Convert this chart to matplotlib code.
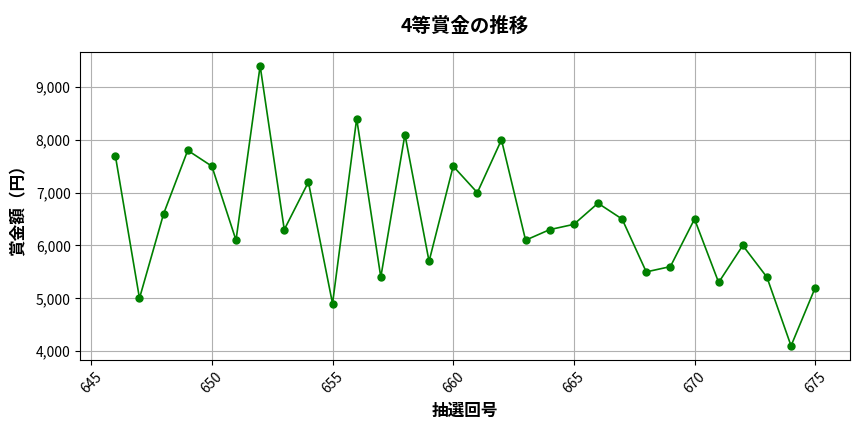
import matplotlib
matplotlib.use("Agg")
import matplotlib.pyplot as plt
from matplotlib.ticker import FuncFormatter

plt.rcParams['font.family'] = ['Noto Sans CJK JP', 'DejaVu Sans']

draws = list(range(646, 676))
prizes = [7700, 5000, 6600, 7800, 7500, 6100, 9400, 6300, 7200, 4900,
          8400, 5400, 8100, 5700, 7500, 7000, 8000, 6100, 6300, 6400,
          6800, 6500, 5500, 5600, 6500, 5300, 6000, 5400, 4100, 5200]

fig, ax = plt.subplots(figsize=(8.64, 4.32), dpi=100)
ax.plot(draws, prizes, color='green', marker='o', markersize=5, linewidth=1.2)
ax.set_title('4等賞金の推移', fontsize=14, fontweight='bold', pad=14)
ax.set_xlabel('抽選回号', fontsize=12, fontweight='bold', labelpad=4)
ax.set_ylabel('賞金額（円）', fontsize=12, fontweight='bold', labelpad=6)
ax.yaxis.set_major_formatter(FuncFormatter(lambda v, p: f'{int(v):,}'))
ax.tick_params(axis='x', labelrotation=45)
ax.grid(True, color='#b0b0b0', linewidth=0.8)
fig.subplots_adjust(left=0.093, right=0.984, top=0.88, bottom=0.167)
fig.savefig('out.png', dpi=100)
